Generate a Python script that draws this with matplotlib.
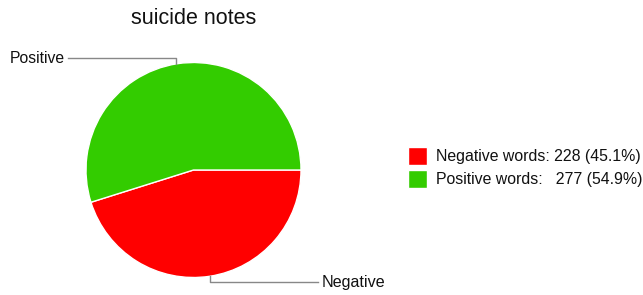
import matplotlib
matplotlib.use("Agg")
import matplotlib.pyplot as plt

title = "suicide notes"
categories = ["Negative", "Positive"]
values = [228, 277]
legend_labels = ["Negative words: 228 (45.1%)", "Positive words:   277 (54.9%)"]
colors = ["#ff0000", "#33cc00"]

plt.rcParams['font.family'] = ['Liberation Sans', 'DejaVu Sans']

W, H = 643, 295
fig = plt.figure(figsize=(W / 100, H / 100), dpi=100)
ax = fig.add_axes([0, 0, 1, 1])
ax.set_xlim(0, W)
ax.set_ylim(0, H)
ax.set_aspect('equal')
ax.axis('off')

def py(y):
    return H - y

cx, cy, r = 193.5, 170, 107.5
wedges, _ = ax.pie(values, colors=colors, startangle=0, counterclock=False,
                   center=(cx, py(cy)), radius=r,
                   wedgeprops=dict(edgecolor='white', linewidth=1.0))
ax.set_xlim(0, W)
ax.set_ylim(0, H)

ax.text(cx, py(19), title, ha='center', va='center', fontsize=15.5, color='#111111')

lc = '#888888'
# Positive leader
ax.plot([68, 176, 176], [py(58.3), py(58.3), py(64)], color=lc, lw=1.0)
ax.text(10, py(58.5), categories[1], ha='left', va='center', fontsize=11.3, color='#111111')
# Negative leader
ax.plot([210, 210, 318], [py(276), py(281.5), py(281.5)], color=lc, lw=1.0)
ax.text(322, py(282), categories[0], ha='left', va='center', fontsize=11.6, color='#111111')

leg = ax.legend(wedges, legend_labels, loc='center left',
                bbox_to_anchor=(408 / W, 1 - 167.5 / H), bbox_transform=fig.transFigure,
                frameon=False, fontsize=11.4, handlelength=1.2, handleheight=1.3,
                handletextpad=0.6, labelspacing=0.35, borderpad=0, borderaxespad=0)
for t in leg.get_texts():
    t.set_color('#111111')

fig.savefig("out.png", dpi=100)
